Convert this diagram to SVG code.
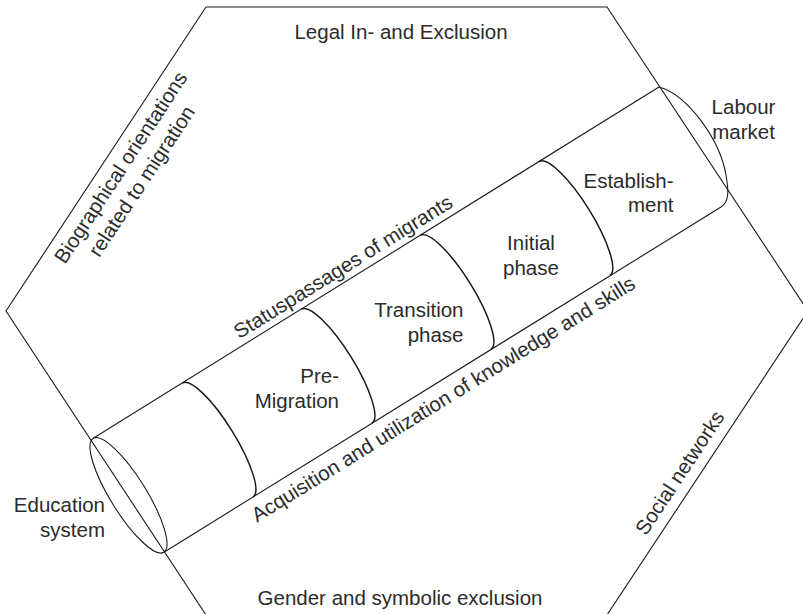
<svg xmlns="http://www.w3.org/2000/svg" width="803" height="614" viewBox="0 0 803 614">
<style>
.ln{fill:none;stroke:#1a1a1a;stroke-width:1.1}
.arc{fill:none;stroke:#1a1a1a;stroke-width:1.5}
text{font-family:"Liberation Sans",Arial,sans-serif;font-size:20.5px;fill:#2b2b2b}
.m{text-anchor:middle}
.e{text-anchor:end}
</style>
<rect width="803" height="614" fill="#ffffff"/>
<g id="context-frame">
<polygon class="ln" points="206,7 607,7 808,311 607,615 206,615 6,311"/>
</g>
<g id="context-legal"><text class="m" x="401" y="39">Legal In- and Exclusion</text></g>
<g id="context-gender"><text class="m" x="400" y="605">Gender and symbolic exclusion</text></g>
<g id="context-biographical">
<text class="m" transform="translate(126.6 171.3) rotate(-56.7)">Biographical orientations</text>
<text class="m" transform="translate(147.5 185) rotate(-56.7)">related to migration</text>
</g>
<g id="context-social"><text class="m" transform="translate(685.6 476.6) rotate(-56.5)">Social networks</text></g>
<g id="cylinder">
<line class="ln" x1="93.2" y1="438.3" x2="659" y2="87"/>
<line class="ln" x1="164.8" y1="551.7" x2="721" y2="207"/>
<ellipse class="ln" cx="128.5" cy="495.3" rx="67" ry="18" transform="rotate(58.2 128.5 495.3)"/>
<path class="ln" d="M659,87 C688,95 720,140 726,175 C729,192 729,202 721,207"/>
<text class="m" transform="translate(346.8 272.7) rotate(-31.8)">Statuspassages of migrants</text>
<text class="m" transform="translate(446.9 405) rotate(-31.8)">Acquisition and utilization of knowledge and skills</text>
</g>
<g id="end-education">
<text class="e" x="105" y="512">Education</text>
<text class="e" x="105" y="537">system</text>
</g>
<g id="end-labour">
<text class="m" x="743.5" y="114">Labour</text>
<text class="m" x="743.5" y="139">market</text>
</g>
<g id="phase-pre">
<path class="arc" d="M182.4,383 A67 17 58.2 0 1 253,496.9"/>
<text class="e" x="339" y="383">Pre-</text>
<text class="e" x="339" y="408">Migration</text>
</g>
<g id="phase-transition">
<path class="arc" d="M301.4,309.2 A67 17 58.2 0 1 372,423.1"/>
<text class="e" x="463.5" y="317">Transition</text>
<text class="e" x="463.5" y="342">phase</text>
</g>
<g id="phase-initial">
<path class="arc" d="M420.4,235.4 A67 17 58.2 0 1 491,349.3"/>
<text class="m" x="531" y="250">Initial</text>
<text class="m" x="531" y="275">phase</text>
</g>
<g id="phase-establishment">
<path class="arc" d="M539.3,161.6 A67 17 58.2 0 1 609.9,275.5"/>
<text class="e" x="673.5" y="188">Establish-</text>
<text class="e" x="673.5" y="212">ment</text>
</g>
</svg>
